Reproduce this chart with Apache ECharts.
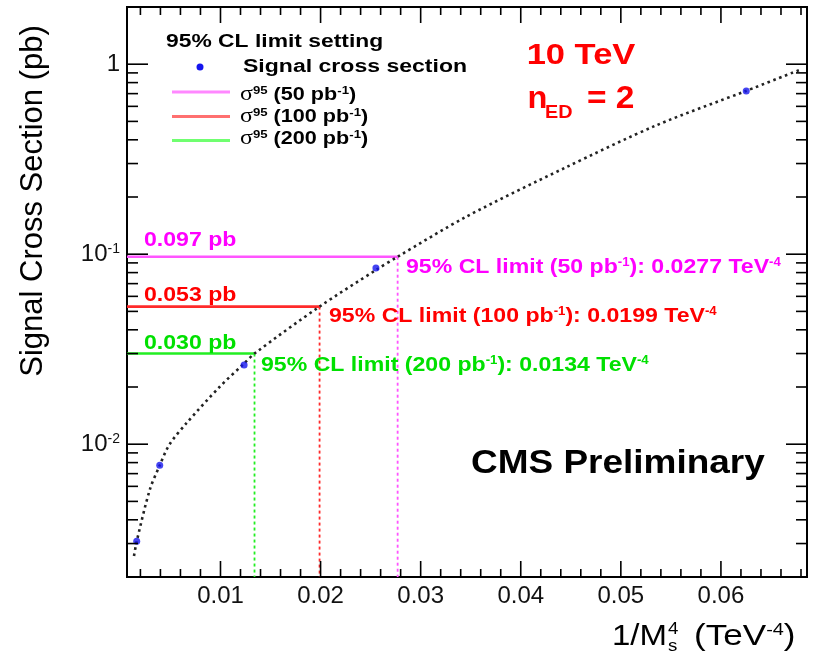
<!DOCTYPE html>
<html>
<head>
<meta charset="utf-8">
<script src="https://cdn.jsdelivr.net/npm/echarts@6/dist/echarts.min.js"></script>
<style>
  html, body { margin: 0; padding: 0; background: #fff; }
  #chart { width: 818px; height: 656px; }
</style>
</head>
<body>
<div id="chart"></div>
<script>
// Axis ranges: x = 1/Ms^4 (TeV^-4), y = cross section (pb, log)
const X_MIN = 0.00066, X_MAX = 0.0686;
const Y_MIN = 0.002, Y_MAX = 2;

// Signal cross section points
const signalX = [0.00163, 0.00393, 0.01236, 0.02553, 0.06253];
const signalY = [0.00308, 0.00774, 0.0261, 0.0846, 0.723];

// Cross-section curve through the signal points
const curveX = [0.00136, 0.00163, 0.00293, 0.00393, 0.0049, 0.0066, 0.0099, 0.01236, 0.0134,
                0.0199, 0.02553, 0.0277, 0.0346, 0.0443, 0.0536, 0.0625, 0.0678];
const curveY = [0.00258, 0.00308, 0.00574, 0.00774, 0.00996, 0.0129, 0.020, 0.0266, 0.030,
                0.053, 0.0825, 0.097, 0.158, 0.283, 0.478, 0.723, 0.93];

// 95% CL limits for each integrated luminosity
const lumi = ['50', '100', '200'];
const limitSigma = [0.097, 0.053, 0.030];
const limitX = [0.0277, 0.0199, 0.0134];

// Frame tick positions
const xMajorTicks = [0.01, 0.02, 0.03, 0.04, 0.05, 0.06];
const xMinorTicks = [0.002, 0.004, 0.006, 0.008, 0.012, 0.014, 0.016, 0.018,
  0.022, 0.024, 0.026, 0.028, 0.032, 0.034, 0.036, 0.038, 0.042, 0.044, 0.046, 0.048,
  0.052, 0.054, 0.056, 0.058, 0.062, 0.064, 0.066, 0.068];
const yMajorTicks = [0.01, 0.1, 1];
const yMinorTicks = [0.003, 0.004, 0.005, 0.006, 0.007, 0.008, 0.009,
  0.02, 0.03, 0.04, 0.05, 0.06, 0.07, 0.08, 0.09,
  0.2, 0.3, 0.4, 0.5, 0.6, 0.7, 0.8, 0.9];

const textColors = ['#ff00ff', '#ff0000', '#00e000'];
const lineColors = ['#ff55ff', '#ff2a2a', '#22ee22'];
const legendColors = ['#ff88ff', '#ff7070', '#70ff70'];

const SANS = '"Liberation Sans", Arial, Helvetica, sans-serif';
const TICK_LEN = [16, 8, 21, 11];

const chart = echarts.init(document.getElementById('chart'), null, { renderer: 'canvas' });

const tickData = []
  .concat(xMajorTicks.map(v => [v, Y_MIN, 0]))
  .concat(xMinorTicks.map(v => [v, Y_MIN, 1]))
  .concat(yMajorTicks.map(v => [X_MIN, v, 2]))
  .concat(yMinorTicks.map(v => [X_MIN, v, 3]));

// Draws frame ticks on all four sides (ROOT style)
function renderTick(params, api) {
  const kind = api.value(2);
  const len = TICK_LEN[kind];
  const st = { stroke: '#000', lineWidth: 1.6 };
  if (kind < 2) {
    const v = api.value(0);
    const b = api.coord([v, Y_MIN]);
    const t = api.coord([v, Y_MAX]);
    return { type: 'group', children: [
      { type: 'line', shape: { x1: b[0], y1: b[1], x2: b[0], y2: b[1] - len }, style: st },
      { type: 'line', shape: { x1: t[0], y1: t[1], x2: t[0], y2: t[1] + len }, style: st }
    ] };
  }
  const v = api.value(1);
  const l = api.coord([X_MIN, v]);
  const r = api.coord([X_MAX, v]);
  return { type: 'group', children: [
    { type: 'line', shape: { x1: l[0], y1: l[1], x2: l[0] + len, y2: l[1] }, style: st },
    { type: 'line', shape: { x1: r[0], y1: r[1], x2: r[0] - len, y2: r[1] }, style: st }
  ] };
}

function txt(x, y, text, font, fill, sx, rich, align) {
  return {
    type: 'text', x: x, y: y, scaleX: sx || 1, z: 100, silent: true,
    style: { text: text, font: font, fill: fill || '#000', align: align || 'left', verticalAlign: 'middle', rich: rich }
  };
}

const supB = (size) => ({ font: 'bold ' + size + 'px ' + SANS, verticalAlign: 'top' });
const supR = (size) => ({ font: size + 'px ' + SANS, verticalAlign: 'top' });

const graphics = [];

// Value labels and limit annotations
lumi.forEach((L, i) => {
  const yLab = [240.5, 295, 343][i];
  graphics.push(txt(144, yLab, limitSigma[i].toFixed(3) + ' pb', 'bold 21px ' + SANS, textColors[i], 1.1));
  const pos = [[406, 267.5], [329, 316], [261, 365]][i];
  graphics.push(txt(pos[0], pos[1],
    '95% CL limit (' + L + ' pb{s|-1}): ' + limitX[i].toFixed(4) + ' TeV{s|-4}',
    'bold 21px ' + SANS, textColors[i], 1.1, { s: supB(12) }));
});

// Energy and dimension labels
graphics.push(txt(581, 56, '10 TeV', 'bold 30px ' + SANS, '#ff0000', 1.15, null, 'center'));
graphics.push(txt(527.5, 99.5, 'n', 'bold 31px ' + SANS, '#ff0000', 1.05));
graphics.push(txt(545, 113.5, 'ED', 'bold 18px ' + SANS, '#ff0000', 1.1));
graphics.push(txt(587, 99, '= 2', 'bold 31px ' + SANS, '#ff0000', 1.08));

// Experiment label
graphics.push(txt(471, 464, 'CMS Preliminary', 'bold 33px ' + SANS, '#000', 1.12));

// Legend
graphics.push(txt(166, 42.5, '95% CL limit setting', 'bold 18px ' + SANS, '#000', 1.27));
graphics.push({ type: 'circle', z: 100, silent: true, shape: { cx: 200, cy: 67, r: 3.5 }, style: { fill: '#1515ee' } });
graphics.push(txt(243, 67.5, 'Signal cross section', 'bold 18px ' + SANS, '#000', 1.28));
lumi.forEach((L, i) => {
  const yl = [92, 116.5, 140.5][i];
  graphics.push({ type: 'line', z: 100, silent: true, shape: { x1: 172, y1: yl, x2: 230, y2: yl },
    style: { stroke: legendColors[i], lineWidth: 3 } });
  graphics.push(txt(240, [95, 117, 139][i], '{g|σ}{s|95} (' + L + ' pb{s|-1})', 'bold 18px ' + SANS, '#000', 1.2,
    { g: { font: '20px "Liberation Serif", serif' }, s: supB(11) }));
});

// Axis titles
graphics.push({
  type: 'text', x: 33, y: 201, rotation: Math.PI / 2, z: 100, silent: true,
  style: { text: 'Signal Cross Section (pb)', font: '31px ' + SANS, fill: '#000', align: 'center', verticalAlign: 'middle' }
});
graphics.push(txt(612, 636.5, '1/M', '30px ' + SANS, '#000', 1.1));
graphics.push(txt(668, 629, '4', '17px ' + SANS, '#000', 1.1));
graphics.push(txt(668, 646, 's', '17px ' + SANS, '#000', 1.1));
graphics.push(txt(694, 636.5, '(TeV{s|-4})', '30px ' + SANS, '#000', 1.17, { s: supR(17) }));

const series = [];
lumi.forEach((L, i) => {
  series.push({
    name: 'sigma95 ' + L, type: 'line', symbol: 'none', silent: true, z: 3,
    data: [[X_MIN, limitSigma[i]], [limitX[i], limitSigma[i]]],
    lineStyle: { color: lineColors[i], width: 2.6 }
  });
  series.push({
    name: 'limit ' + L, type: 'line', symbol: 'none', silent: true, z: 3,
    data: [[limitX[i], limitSigma[i]], [limitX[i], Y_MIN]],
    lineStyle: { color: lineColors[i], width: 1.8, type: [3, 3] }
  });
});
series.push({
  name: 'curve', type: 'line', symbol: 'none', silent: true, z: 4,
  smooth: 0.3,
  data: curveX.map((x, i) => [x, curveY[i]]),
  lineStyle: { color: '#222', width: 2.6, type: [2.6, 3.6] }
});
series.push({
  name: 'Signal cross section', type: 'scatter', symbolSize: 7, z: 5, silent: true,
  data: signalX.map((x, i) => [x, signalY[i]]),
  itemStyle: { color: '#1515ee' }
});
series.push({
  name: 'ticks', type: 'custom', renderItem: renderTick, data: tickData,
  clip: false, silent: true, z: 10
});

chart.setOption({
  animation: false,
  backgroundColor: '#fff',
  grid: { left: 127, right: 11, top: 7, bottom: 79, show: true, borderColor: '#000', borderWidth: 2, backgroundColor: 'transparent' },
  xAxis: {
    type: 'value', min: X_MIN, max: X_MAX,
    axisLine: { show: false }, axisTick: { show: false }, splitLine: { show: false },
    axisLabel: {
      showMinLabel: false, showMaxLabel: false, margin: 7,
      fontFamily: SANS, fontSize: 24, color: '#111',
      formatter: v => v.toFixed(2)
    }
  },
  yAxis: {
    type: 'log', logBase: 10, min: Y_MIN, max: Y_MAX,
    axisLine: { show: false }, axisTick: { show: false }, splitLine: { show: false },
    axisLabel: {
      showMinLabel: false, showMaxLabel: false, margin: 7,
      formatter: v => {
        const e = Math.round(Math.log10(v));
        return e === 0 ? '{b|1}' : '{b|10}{s|' + e + '}';
      },
      rich: {
        b: { fontFamily: SANS, fontSize: 24, color: '#111' },
        s: { fontFamily: SANS, fontSize: 14, color: '#111', verticalAlign: 'top' }
      }
    }
  },
  graphic: graphics,
  series: series
});
</script>
</body>
</html>
